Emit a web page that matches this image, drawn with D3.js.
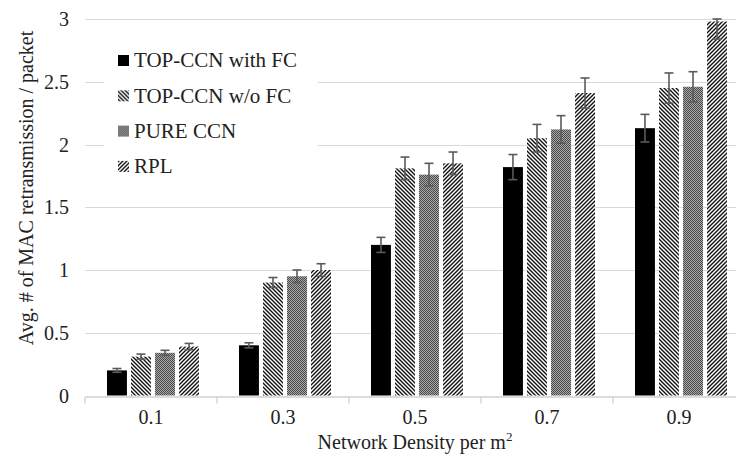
<!DOCTYPE html>
<html>
<head>
<meta charset="utf-8">
<script src="https://cdn.jsdelivr.net/npm/d3@7"></script>
<style>
  body { margin: 0; background: #fff; }
  svg { display: block; }
  text { font-family: "Liberation Serif", "Times New Roman", serif; fill: #222; }
</style>
</head>
<body>
<svg id="chart"></svg>
<script>
// data
const densities = ["0.1", "0.3", "0.5", "0.7", "0.9"];
const seriesNames = ["TOP-CCN with FC", "TOP-CCN w/o FC", "PURE CCN", "RPL"];
const withFC = [0.20, 0.40, 1.20, 1.82, 2.13];
const withFCErr = [0.015, 0.02, 0.06, 0.10, 0.11];
const withoutFC = [0.31, 0.90, 1.81, 2.05, 2.45];
const withoutFCErr = [0.02, 0.04, 0.09, 0.11, 0.12];
const pureCCN = [0.34, 0.95, 1.76, 2.12, 2.46];
const pureCCNErr = [0.02, 0.05, 0.09, 0.11, 0.12];
const rpl = [0.39, 1.00, 1.85, 2.41, 2.98];
const rplErr = [0.025, 0.05, 0.09, 0.12, 0.14];
const yTicks = [0, 0.5, 1, 1.5, 2, 2.5, 3];

const width = 736;
const height = 459;
const margin = {left: 85, right: -9, top: 19, bottom: 63};

const svg = d3.select('#chart')
    .attr('width', width)
    .attr('height', height);

// hatch patterns
const defs = svg.append('defs');
const back = defs.append('pattern')
    .attr('id', 'back')
    .attr('patternUnits', 'userSpaceOnUse')
    .attr('width', 4).attr('height', 4);
back.append('rect').attr('width', 4).attr('height', 4).attr('fill', '#fff');
back.append('path')
    .attr('d', 'M0,0L4,4M-1,3L1,5M3,-1L5,1')
    .attr('stroke', '#111').attr('stroke-width', 1.4);

const fwd = defs.append('pattern')
    .attr('id', 'fwd')
    .attr('patternUnits', 'userSpaceOnUse')
    .attr('width', 4).attr('height', 4);
fwd.append('rect').attr('width', 4).attr('height', 4).attr('fill', '#fff');
fwd.append('path')
    .attr('d', 'M0,4L4,0M-1,1L1,-1M3,5L5,3')
    .attr('stroke', '#111').attr('stroke-width', 1.4);

const checker = defs.append('pattern')
    .attr('id', 'checker')
    .attr('patternUnits', 'userSpaceOnUse')
    .attr('width', 2).attr('height', 2);
checker.append('rect').attr('width', 2).attr('height', 2).attr('fill', '#a8a8a8');
checker.append('rect').attr('width', 1).attr('height', 1).attr('fill', '#4a4a4a');
checker.append('rect').attr('x', 1).attr('y', 1).attr('width', 1).attr('height', 1).attr('fill', '#4a4a4a');

const fills = ['#000', 'url(#back)', 'url(#checker)', 'url(#fwd)'];

let series = [
    {name: seriesNames[0], values: withFC, errs: withFCErr},
    {name: seriesNames[1], values: withoutFC, errs: withoutFCErr},
    {name: seriesNames[2], values: pureCCN, errs: pureCCNErr},
    {name: seriesNames[3], values: rpl, errs: rplErr}
];

let rows = [];
series.forEach((s, si) => {
    densities.forEach((d, di) => {
        rows.push({density: d, series: s.name, si: si, value: s.values[di], err: s.errs[di]});
    });
});

let x = d3.scaleBand()
    .domain(densities)
    .range([margin.left, width - margin.right])
    .paddingInner(0)
    .paddingOuter(0);

let xInner = d3.scaleBand()
    .domain(seriesNames)
    .range([22, x.bandwidth() - 18])
    .paddingInner(0.17);

let y = d3.scaleLinear()
    .domain([0, 3])
    .range([height - margin.bottom - 0.5, margin.top]);

// gridlines
svg.append('g')
    .selectAll('line')
    .data(yTicks.filter(t => t > 0))
    .enter().append('line')
    .attr('x1', margin.left)
    .attr('x2', width - margin.right)
    .attr('y1', d => Math.round(y(d)) + 0.5)
    .attr('y2', d => Math.round(y(d)) + 0.5)
    .attr('stroke', '#d9d9d9')
    .attr('stroke-width', 1.2);

// y tick labels
svg.append('g')
    .selectAll('text')
    .data(yTicks)
    .enter().append('text')
    .attr('x', 69)
    .attr('y', d => y(d))
    .attr('dy', '0.35em')
    .attr('text-anchor', 'end')
    .attr('font-size', '20px')
    .text(d => d);

// x axis
let xAxis = d3.axisBottom(x)
    .tickSize(0)
    .tickPadding(13)
    .tickSizeOuter(0);

let gx = svg.append('g')
    .attr('transform', `translate(0,${Math.round(y(0)) + 0.5})`)
    .call(xAxis);
gx.select('.domain').attr('stroke', '#d0d0d0').attr('stroke-width', 1.3);
gx.selectAll('.tick text')
    .attr('font-size', '20px')
    .attr('font-family', '"Liberation Serif", serif')
    .attr('fill', '#222');

// separators between categories
gx.selectAll('.sep')
    .data(densities)
    .enter().append('line')
    .attr('class', 'sep')
    .attr('x1', d => x(d))
    .attr('x2', d => x(d))
    .attr('y1', 0)
    .attr('y2', 7)
    .attr('stroke', '#d0d0d0')
    .attr('stroke-width', 1.3);

// bars
svg.append('g')
    .selectAll('rect')
    .data(rows)
    .enter().append('rect')
    .attr('x', d => x(d.density) + xInner(d.series))
    .attr('width', xInner.bandwidth())
    .attr('y', d => y(d.value))
    .attr('height', d => y(0) - y(d.value))
    .attr('fill', d => fills[d.si]);

// error bars
let eb = svg.append('g')
    .attr('stroke', '#5a5a5a')
    .attr('stroke-width', 1.6);

rows.forEach(d => {
    let cx = x(d.density) + xInner(d.series) + xInner.bandwidth() / 2;
    let top = y(Math.min(d.value + d.err, 3));
    let bot = y(d.value - d.err);
    eb.append('line').attr('x1', cx).attr('x2', cx).attr('y1', top).attr('y2', bot);
    eb.append('line').attr('x1', cx - 4.5).attr('x2', cx + 4.5).attr('y1', top).attr('y2', top);
    eb.append('line').attr('x1', cx - 4.5).attr('x2', cx + 4.5).attr('y1', bot).attr('y2', bot);
});

// legend
let legend = svg.append('g');
legend.append('rect')
    .attr('x', 104).attr('y', 40)
    .attr('width', 214).attr('height', 146)
    .attr('fill', '#fff');

let items = legend.selectAll('g')
    .data(seriesNames)
    .enter().append('g')
    .attr('transform', (d, i) => `translate(118,${60 + i * 35.3})`);

items.append('rect')
    .attr('x', 0)
    .attr('y', -5)
    .attr('width', 11)
    .attr('height', 11)
    .attr('fill', (d, i) => fills[i]);

items.append('text')
    .attr('x', 16)
    .attr('y', 0)
    .attr('dy', '0.35em')
    .attr('font-size', '21px')
    .text(d => d);

// axis titles
svg.append('text')
    .attr('x', (margin.left + width - margin.right) / 2)
    .attr('y', 449)
    .attr('text-anchor', 'middle')
    .attr('font-size', '20px')
    .html('Network Density per m<tspan dy="-8" font-size="13px">2</tspan>');

svg.append('text')
    .attr('transform', 'translate(33,188) rotate(-90)')
    .attr('text-anchor', 'middle')
    .attr('font-size', '20px')
    .text('Avg. # of MAC retransmission / packet');
</script>
</body>
</html>
